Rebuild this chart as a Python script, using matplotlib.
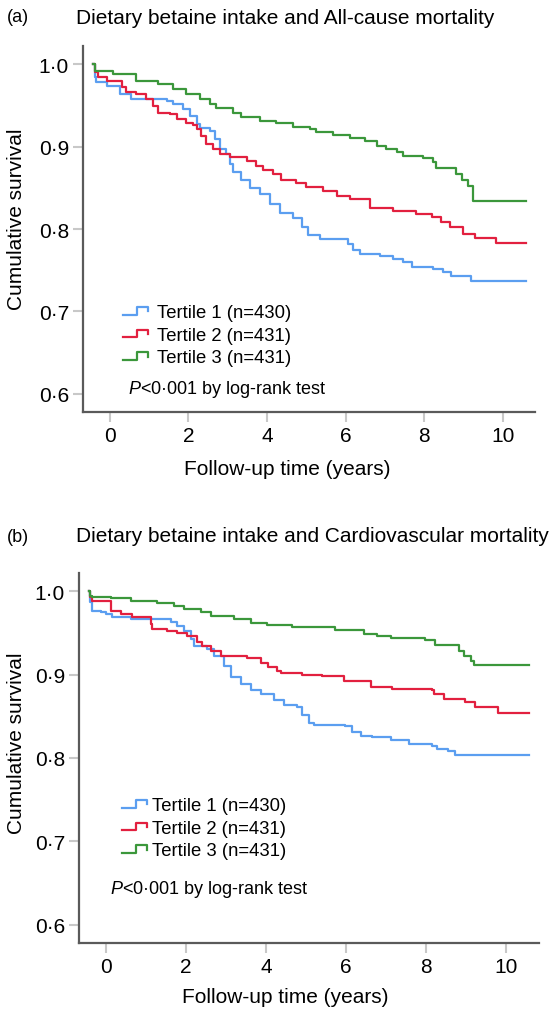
import matplotlib
matplotlib.use('Agg')
import matplotlib.pyplot as plt
import numpy as np
from matplotlib.legend_handler import HandlerBase
from matplotlib.lines import Line2D
from matplotlib.ticker import FuncFormatter

plt.rcParams['font.family'] = ['Liberation Sans', 'DejaVu Sans']
plt.rcParams['mathtext.fontset'] = 'custom'
plt.rcParams['mathtext.rm'] = 'Liberation Sans'
plt.rcParams['mathtext.it'] = 'Liberation Sans:italic'

# ---- data (time in years, survival) ----
labels = ['Tertile 1 (n=430)', 'Tertile 2 (n=431)', 'Tertile 3 (n=431)']
titles = ['Dietary betaine intake and All-cause mortality',
          'Dietary betaine intake and Cardiovascular mortality']
panel_tags = ['(a)', '(b)']

# (a) all-cause mortality
a_t1_time = [-0.42, -0.38, -0.34, -0.08, 0.25, 0.55, 1.45, 1.61, 1.87, 2.04, 2.21, 2.29, 2.54,
             2.67, 2.80, 2.97, 3.05, 3.14, 3.35, 3.56, 3.82, 4.07, 4.33, 4.66, 4.88, 5.05,
             5.34, 6.06, 6.19, 6.36, 6.87, 7.21, 7.46, 7.68, 8.23, 8.48, 8.69, 9.20, 10.58]
a_t1_surv = [1.0, 0.985, 0.978, 0.974, 0.964, 0.958, 0.955, 0.952, 0.945, 0.937, 0.927, 0.922, 0.919,
             0.909, 0.897, 0.891, 0.879, 0.869, 0.859, 0.850, 0.842, 0.830, 0.819, 0.813, 0.802, 0.793,
             0.788, 0.782, 0.774, 0.770, 0.767, 0.764, 0.760, 0.754, 0.751, 0.748, 0.743, 0.737, 0.737]

a_t2_time = [-0.42, -0.38, -0.30, -0.08, 0.30, 0.42, 0.68, 0.93, 1.10, 1.23, 1.53, 1.70, 1.95,
             2.12, 2.21, 2.33, 2.46, 2.63, 2.80, 3.05, 3.48, 3.73, 3.90, 4.16, 4.37, 4.75,
             5.00, 5.43, 5.77, 6.11, 6.62, 7.21, 7.80, 8.19, 8.44, 8.65, 8.99, 9.29, 9.82, 10.58]
a_t2_surv = [1.0, 0.990, 0.984, 0.980, 0.972, 0.966, 0.964, 0.958, 0.949, 0.941, 0.939, 0.933, 0.929,
             0.926, 0.921, 0.913, 0.903, 0.897, 0.891, 0.887, 0.883, 0.877, 0.871, 0.867, 0.859, 0.856,
             0.851, 0.846, 0.840, 0.836, 0.825, 0.822, 0.818, 0.814, 0.808, 0.802, 0.794, 0.789, 0.783, 0.783]

a_t3_time = [-0.42, -0.38, 0.08, 0.68, 1.23, 1.61, 1.95, 2.29, 2.54, 2.71, 3.14, 3.35, 3.82,
             4.24, 4.66, 5.09, 5.26, 5.68, 6.11, 6.49, 6.79, 7.04, 7.30, 7.46, 7.97, 8.23,
             8.31, 8.82, 8.95, 9.12, 9.23, 10.58]
a_t3_surv = [1.0, 0.992, 0.988, 0.980, 0.976, 0.970, 0.964, 0.958, 0.952, 0.947, 0.941, 0.936, 0.931,
             0.928, 0.924, 0.921, 0.918, 0.914, 0.910, 0.907, 0.901, 0.897, 0.893, 0.888, 0.886, 0.881,
             0.874, 0.867, 0.859, 0.852, 0.834, 0.834]

# (b) cardiovascular mortality
b_t1_time = [-0.42, -0.40, -0.36, -0.14, 0.00, 0.15, 0.61, 1.61, 1.78, 1.94, 2.11, 2.19, 2.53,
             2.69, 2.94, 3.11, 3.36, 3.61, 3.86, 4.19, 4.44, 4.78, 4.90, 5.07, 5.19, 5.98,
             6.15, 6.36, 6.65, 7.11, 7.57, 8.15, 8.28, 8.55, 8.73, 10.56]
b_t1_surv = [1.0, 0.987, 0.977, 0.975, 0.973, 0.969, 0.967, 0.963, 0.959, 0.953, 0.943, 0.934, 0.931,
             0.923, 0.911, 0.897, 0.889, 0.882, 0.877, 0.870, 0.864, 0.861, 0.852, 0.842, 0.840, 0.839,
             0.831, 0.826, 0.825, 0.822, 0.817, 0.815, 0.811, 0.809, 0.804, 0.804]

b_t2_time = [-0.42, -0.40, -0.36, 0.11, 0.36, 0.65, 1.11, 1.15, 1.53, 1.78, 2.03, 2.28, 2.40,
             2.61, 2.86, 3.53, 3.86, 4.05, 4.28, 4.36, 4.90, 5.40, 5.94, 6.53, 6.61, 7.15,
             8.15, 8.19, 8.44, 8.98, 9.23, 9.80, 10.56]
b_t2_surv = [1.0, 0.993, 0.988, 0.977, 0.973, 0.969, 0.961, 0.955, 0.953, 0.950, 0.947, 0.939, 0.934,
             0.929, 0.923, 0.920, 0.914, 0.909, 0.905, 0.902, 0.900, 0.898, 0.893, 0.892, 0.885, 0.883,
             0.882, 0.877, 0.871, 0.867, 0.861, 0.854, 0.854]

b_t3_time = [-0.42, -0.40, -0.36, 0.11, 0.61, 1.27, 1.69, 1.94, 2.36, 2.61, 3.19, 3.61, 4.03,
             4.65, 5.73, 6.44, 6.78, 7.11, 7.98, 8.23, 8.82, 8.94, 9.11, 9.19, 10.56]
b_t3_surv = [1.0, 0.995, 0.993, 0.992, 0.989, 0.986, 0.983, 0.979, 0.975, 0.971, 0.967, 0.962, 0.960,
             0.957, 0.954, 0.949, 0.946, 0.944, 0.942, 0.936, 0.929, 0.923, 0.917, 0.912, 0.912]

x_ticks = [0, 2, 4, 6, 8, 10]
y_ticks = [0.6, 0.7, 0.8, 0.9, 1.0]

colors = ['#5b9ef0', '#e2203f', '#3b973b']


class StepHandler(HandlerBase):
    # little SPSS-style step symbol for the legend
    def create_artists(self, legend, orig_handle, xdescent, ydescent, width, height, fontsize, trans):
        xs = np.array([0, 0.55, 0.55, 1.0, 1.0]) * width - xdescent
        ys = np.array([0.1, 0.1, 0.8, 0.8, 0.4]) * height - ydescent
        ln = Line2D(xs, ys, color=orig_handle.get_color(), lw=orig_handle.get_linewidth())
        ln.set_transform(trans)
        return [ln]


fig = plt.figure(figsize=(5.59, 10.12), dpi=100)
W, H = 559, 1012

# axes boxes in pixels: left, top, right, bottom
boxes = [(83, 47, 535, 413), (79, 574, 539, 944)]
curves = [[(a_t1_time, a_t1_surv), (a_t2_time, a_t2_surv), (a_t3_time, a_t3_surv)],
          [(b_t1_time, b_t1_surv), (b_t2_time, b_t2_surv), (b_t3_time, b_t3_surv)]]
title_y = [18, 537]
ylabel_pos = [(16.7, 219), (16.7, 743)]
xlabel_pos = [(287, 470), (285, 998)]
legend_pos = [(123, 305), (122, 798)]
legend_pad = [0.52, 0.32]
ptext_pos = [(128, 390), (110, 889)]

for k in range(2):
    l, t, r, b = boxes[k]
    ax = fig.add_axes([l / W, 1 - b / H, (r - l) / W, (b - t) / H])
    lines = []
    for (tt, ss), c in zip(curves[k], colors):
        ln, = ax.step(tt, ss, where='post', color=c, lw=1.6)
        lines.append(ln)

    ax.set_xlim(-0.68, 10.82)
    ax.set_ylim(0.578, 1.022)
    ax.set_xticks(x_ticks)
    ax.set_yticks(y_ticks)
    ax.yaxis.set_major_formatter(FuncFormatter(lambda v, p: f'{v:.1f}'.replace('.', '\u00b7')))
    ax.tick_params(axis='both', direction='out', length=7, width=1.5, color='#c8c8c8',
                   labelsize=15, pad=3)
    for s in ['top', 'right']:
        ax.spines[s].set_visible(False)
    for s in ['left', 'bottom']:
        ax.spines[s].set_color('#5a5a5a')
        ax.spines[s].set_linewidth(1.6)

    ax.set_ylabel('Cumulative survival', fontsize=15, va='center')
    ax.yaxis.set_label_coords((ylabel_pos[k][0] - l) / (r - l), (b - ylabel_pos[k][1]) / (b - t))
    ax.set_xlabel('Follow-up time (years)', fontsize=15, va='center')
    ax.xaxis.set_label_coords((xlabel_pos[k][0] - l) / (r - l), (b - xlabel_pos[k][1]) / (b - t))

    ax.legend(lines, labels, handler_map={Line2D: StepHandler()}, loc='upper left',
              bbox_to_anchor=((legend_pos[k][0] - l) / (r - l), (b - legend_pos[k][1]) / (b - t)),
              frameon=False, fontsize=13.3, handlelength=1.33, handleheight=0.5,
              handletextpad=legend_pad[k], labelspacing=0.3, borderpad=0, borderaxespad=0)

    ax.text((ptext_pos[k][0] - l) / (r - l), (b - ptext_pos[k][1]) / (b - t),
            '$P$<0\u00b7001 by log-rank test', transform=ax.transAxes, fontsize=13, va='center')

    fig.text(7 / W, 1 - title_y[k] / H, panel_tags[k], fontsize=13, va='center')
    fig.text(76 / W, 1 - title_y[k] / H, titles[k], fontsize=15, va='center')

fig.savefig('out.png', dpi=100)
